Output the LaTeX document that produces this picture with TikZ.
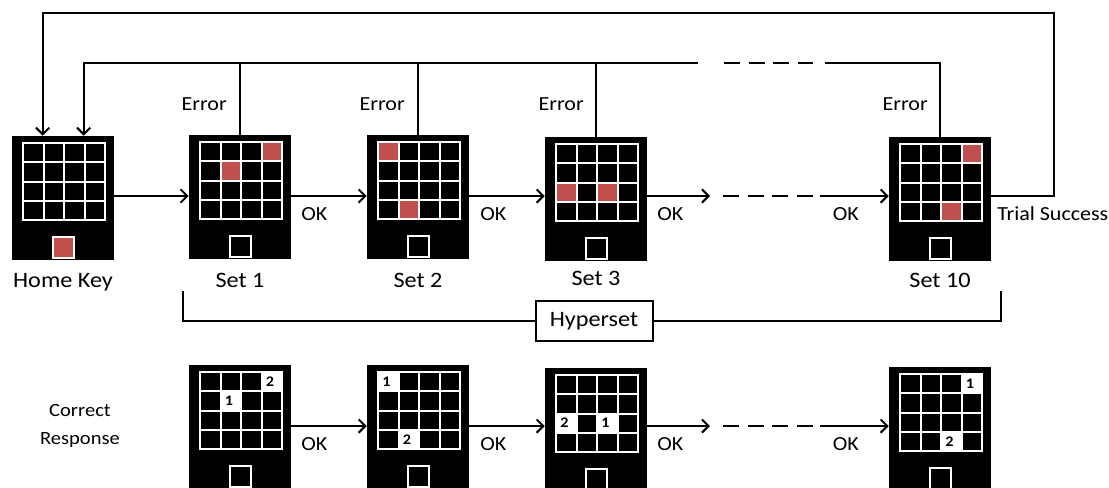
\documentclass[tikz,border=0pt]{standalone}
\usepackage{fontspec}
\setmainfont[FakeStretch=1.1]{Carlito}
\usetikzlibrary{arrows.meta,calc}
\definecolor{cellred}{HTML}{C0504D}
\tikzset{
  ln/.style={line width=1.5pt},
  arr/.style={ln,-{Straight Barb[length=5pt,width=10pt,line width=1.5pt]}},
  dsh/.style={ln,dash pattern=on 12pt off 6.5pt},
  devbox/.style={fill=black,draw=none,minimum width=76.5pt,minimum height=93pt,inner sep=0pt},
  lbl/.style={font=\fontsize{15}{18}\selectfont,inner sep=0pt},
  crlbl/.style={font=\fontsize{14}{17}\selectfont,inner sep=0pt},
  biglbl/.style={font=\fontsize{16.5}{20}\selectfont,inner sep=0pt},
  numlbl/.style={font=\bfseries\fontsize{11}{12}\selectfont,inner sep=0pt},
  hbox/.style={draw,line width=1.5pt,fill=white,minimum width=87.75pt,minimum height=30pt,inner sep=0pt,font=\fontsize{16.5}{20}\selectfont},
}
% #1 name, #2 X, #3 Y, #4 cells c/r/fill/text, #5 key fill
\newcommand{\mydevice}[5]{%
  \node[devbox] (#1) at (#2+51,#3+62) {};
  \begin{scope}[shift={(#2+11,#3+7)}]
    \fill[black] (0,0) rectangle (82,77);
    \foreach \c/\r/\f/\t in {#4}{%
      \fill[\f] (\c*20.5,\r*19.25) rectangle ({(\c+1)*20.5},{(\r+1)*19.25});
      \node[numlbl] at ({\c*20.5+8.5},{\r*19.25+9.6}) {\t};
    }
    \draw[white,line width=1.5pt] (0,0) rectangle (82,77);
    \foreach \k in {1,2,3}{%
      \draw[white,line width=1.5pt] (\k*20.5,0) -- (\k*20.5,77);
      \draw[white,line width=1.5pt] (0,\k*19.25) -- (82,\k*19.25);
    }
    \draw[white,line width=1.5pt,fill=#5] (29.5,94) rectangle ++(21,21);
  \end{scope}
}
\begin{document}
\begin{tikzpicture}[x=0.75pt,y=-0.75pt]
\useasboundingbox (0,0) rectangle (1109,487);
% ---------- top row devices
\mydevice{home}{12}{136}{}{cellred}
\mydevice{s1}{189}{135}{3/0/cellred/,1/1/cellred/}{black}
\mydevice{s2}{367}{135}{0/0/cellred/,1/3/cellred/}{black}
\mydevice{s3}{545}{137}{0/2/cellred/,2/2/cellred/}{black}
\mydevice{s10}{889}{137}{3/0/cellred/,2/3/cellred/}{black}
% ---------- bottom row devices
\mydevice{b1}{189}{365}{3/0/white/2,1/1/white/1}{black}
\mydevice{b2}{367}{365}{0/0/white/1,1/3/white/2}{black}
\mydevice{b3}{545}{368}{0/2/white/2,2/2/white/1}{black}
\mydevice{b10}{889}{367}{3/0/white/1,2/3/white/2}{black}
% ---------- helper coordinates
\coordinate (arrY) at (0,196);
\coordinate (arrB) at (0,426);
\coordinate (dA) at (710,196);
\coordinate (dB) at (723,196);
\coordinate (dC) at (820,196);
\coordinate (eA) at (710,426);
\coordinate (eB) at (723,426);
\coordinate (eC) at (820,426);
\coordinate (oR) at (1054,13);
\coordinate (iL) at (698,63);
\coordinate (iD1) at (724,63);
\coordinate (iD2) at (813,63);
\coordinate (iR) at (825,63);
% ---------- top row flow
\draw[arr] (home.east |- arrY) -- (s1.west |- arrY);
\draw[arr] (s1.east |- arrY) -- (s2.west |- arrY);
\draw[arr] (s2.east |- arrY) -- (s3.west |- arrY);
\draw[arr] (s3.east |- arrY) -- (dA);
\draw[dsh] (dB) -- (dC);
\draw[arr] (dC) -- (s10.west |- arrY);
% ---------- feedback loops
\draw[arr] (s10.east |- arrY) -| (oR) -| ($(home.north west)+(31,0)$);
\draw[arr] (iL) -| ($(home.north west)+(72,0)$);
\draw[ln] (s1.north) -- (s1.north |- iL);
\draw[ln] (s2.north) -- (s2.north |- iL);
\draw[ln] (s3.north) -- (s3.north |- iL);
\draw[dsh] (iD1) -- (iD2);
\draw[ln] (s10.north) |- (iR);
% ---------- labels top row
\node[lbl,anchor=base east] (e1) at (227,110) {Error};
\node[lbl,anchor=base east] (e2) at (405,110) {Error};
\node[lbl,anchor=base east] (e3) at (584,110) {Error};
\node[lbl,anchor=base east] (e10) at (928,110) {Error};
\node[lbl,anchor=base west] (ok1) at (301,220) {OK};
\node[lbl,anchor=base west] (ok2) at (480,220) {OK};
\node[lbl,anchor=base west] (ok3) at (657,220) {OK};
\node[lbl,anchor=base east] (ok4) at (859,220) {OK};
\node[lbl,anchor=base west] (ts) at (997,220.5) {Trial Success};
\node[biglbl,anchor=base] (nh) at (home.south |- 0,287.3) {Home Key};
\node[biglbl,anchor=base] (n1) at (s1.south |- 0,287.3) {Set 1};
\node[biglbl,anchor=base] (n2) at (s2.south |- 0,287.3) {Set 2};
\node[biglbl,anchor=base] (n3) at (s3.south |- 0,285.7) {Set 3};
\node[biglbl,anchor=base] (n10) at (s10.south |- 0,287.5) {Set 10};
% ---------- hyperset bracket
\node[hbox] (hyp) at (594,321) {Hyperset};
\coordinate (hL) at (183,291);
\coordinate (hR) at (1001,291);
\draw[ln] (hL) |- (hyp.west);
\draw[ln] (hR) |- (hyp.east);
% ---------- bottom row flow
\node[crlbl,align=center] (cr) at (80,426) {Correct\\[4pt]Response};
\draw[arr] (b1.east |- arrB) -- (b2.west |- arrB);
\draw[arr] (b2.east |- arrB) -- (b3.west |- arrB);
\draw[arr] (b3.east |- arrB) -- (eA);
\draw[dsh] (eB) -- (eC);
\draw[arr] (eC) -- (b10.west |- arrB);
\node[lbl,anchor=base west] (bok1) at (301,450) {OK};
\node[lbl,anchor=base west] (bok2) at (480,450) {OK};
\node[lbl,anchor=base west] (bok3) at (657,450) {OK};
\node[lbl,anchor=base east] (bok4) at (859,450) {OK};
\end{tikzpicture}
\end{document}
